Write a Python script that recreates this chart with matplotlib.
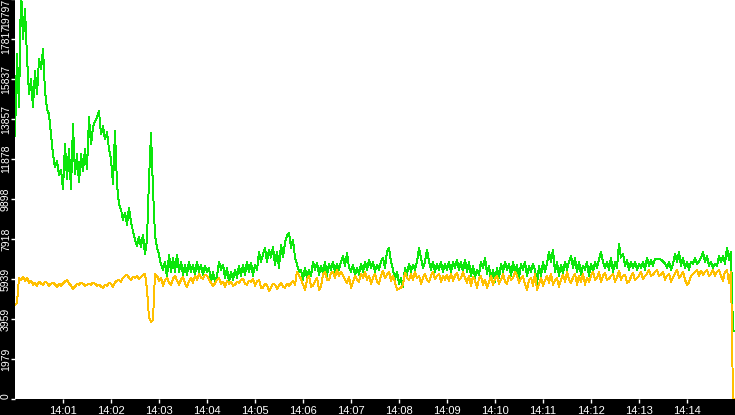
import matplotlib
matplotlib.use("Agg")
import matplotlib.pyplot as plt
import numpy as np

# one reading every 2.5 s from 14:00:00 to 14:15:00
sample_step_s = 2.5

green_vals = [
    13000, 17070, 14440, 20300, 17810, 19300, 16920, 15080, 15830, 14440,
    16230, 15080, 16820, 16320, 17320, 15230, 14340, 14090, 13100, 12110,
    11460, 11760, 11070, 11360, 10370, 12600, 10870, 12360, 10370, 13600,
    11110, 12110, 10720, 12110, 11260, 12360, 11360, 13940, 12600, 13450,
    13740, 13940, 14240, 13100, 13500, 12850, 13200, 12360, 11860, 10620,
    13250, 10620, 9630, 9380, 8880, 9230, 8630, 9480, 8780, 8290,
    7890, 7590, 8040, 7540, 8140, 7150, 7890, 10870, 13150, 10370,
    8090, 7490, 7150, 6650, 6400, 6800, 6000, 7150, 6300, 7000,
    6300, 7150, 6300, 6800, 6150, 6650, 6150, 6800, 6300, 6650,
    6150, 6800, 6300, 6650, 6150, 6600, 6300, 6500, 5810, 6300,
    5810, 6100, 6800, 6400, 6650, 6000, 6500, 5810, 6300, 5900,
    6400, 6000, 6600, 6100, 6650, 6150, 6800, 6300, 6750, 6100,
    6650, 6400, 7290, 6800, 7150, 7490, 6800, 7390, 7000, 7540,
    6650, 7290, 6500, 7640, 7000, 7740, 8090, 8240, 7490, 7890,
    7000, 6650, 6300, 6400, 5900, 6500, 6000, 6400, 6100, 6800,
    6400, 6750, 6150, 6600, 6200, 6800, 6100, 6700, 6400, 6800,
    6300, 6700, 6400, 6800, 7100, 6600, 7240, 6500, 6300, 6650,
    6100, 6500, 6150, 6700, 6300, 6800, 6400, 6900, 6500, 6800,
    6300, 6650, 6400, 6800, 7000, 6500, 7290, 7490, 6800, 6400,
    5900, 6300, 5710, 6000, 5560, 6500, 6150, 6700, 6300, 6650,
    6400, 6800, 7490, 7000, 6500, 6800, 7390, 6800, 6400, 6800,
    6300, 6700, 6400, 6800, 6300, 6700, 6400, 6800, 6300, 6800,
    6500, 6900, 6400, 6800, 6300, 6900, 6300, 6800, 6100, 6600,
    6000, 6400, 6150, 6800, 6500, 7000, 6200, 6600, 5900, 6400,
    5810, 6500, 6000, 6700, 6300, 6800, 6400, 6700, 6100, 6800,
    6200, 6650, 6000, 6700, 6400, 6800, 6100, 6600, 6300, 6700,
    6400, 5710, 6600, 6100, 6800, 6300, 6700, 7290, 6800, 7390,
    6300, 6800, 6100, 6650, 6200, 6800, 6400, 6800, 7100, 6500,
    7000, 6300, 6800, 6150, 6600, 6400, 6800, 6100, 6700, 6300,
    6800, 6500, 6900, 7290, 6800, 6500, 6800, 6400, 7000, 6300,
    6800, 6500, 7690, 7000, 7190, 6600, 6900, 6400, 6800, 6500,
    6800, 6400, 6700, 6500, 6800, 6400, 7000, 6600, 6900, 6600,
    6950, 6950, 6950, 6900, 6800, 6700, 6500, 6800, 6400, 6700,
    7190, 6800, 7290, 6600, 7000, 6500, 6800, 6400, 6800, 6700,
    7000, 6700, 6800, 7000, 7290, 6800, 7100, 6600, 6800, 6500,
    6700, 6600, 7100, 6800, 7100, 6700, 7490, 6900, 7290, 3370,
    3370,
]

orange_vals = [
    4660, 4760, 6000, 5900, 6050, 5860, 6000, 5760, 5860, 5660,
    5760, 5610, 5810, 5710, 5660, 5810, 5760, 5610, 5710, 5760,
    5660, 5560, 5710, 5610, 5710, 5810, 5900, 5710, 5610, 5460,
    5560, 5710, 5660, 5760, 5710, 5610, 5660, 5710, 5660, 5760,
    5710, 5610, 5660, 5560, 5510, 5660, 5610, 5760, 5710, 5560,
    5760, 5860, 5900, 5810, 6000, 6100, 6150, 6000, 5900, 6050,
    6000, 6100, 5950, 6050, 6150, 6200, 5410, 4020, 3820, 3920,
    6200, 6100, 5860, 6000, 5610, 5900, 6000, 5760, 5660, 5950,
    6100, 5860, 5660, 5900, 6050, 5710, 5560, 5810, 6000, 5760,
    6100, 5900, 6200, 6000, 5950, 6150, 6100, 5900, 5760, 5610,
    5710, 5900, 6000, 5710, 5810, 5560, 5860, 5710, 5810, 5610,
    5660, 5810, 5760, 5900, 5950, 5710, 5660, 5860, 5810, 5950,
    5610, 5810, 5900, 5510, 5510, 5710, 5610, 5360, 5510, 5710,
    5660, 5460, 5610, 5760, 5560, 5510, 5710, 5610, 5710, 5860,
    5660, 6300, 6100, 5950, 5660, 5410, 5900, 6100, 5560, 5610,
    5810, 6000, 5410, 5560, 6150, 6300, 5900, 5900, 6250, 6300,
    6000, 6400, 6100, 6300, 6100, 5900, 5760, 6050, 5510, 5760,
    6100, 5900, 5810, 6200, 6000, 6300, 5900, 6100, 5710, 6000,
    6200, 5810, 5710, 6100, 6350, 6000, 6150, 6300, 5860, 6100,
    5760, 5410, 5460, 5510, 5660, 6250, 6000, 5900, 6200, 5900,
    6300, 6000, 6100, 5710, 6000, 6200, 5900, 5810, 6100, 6300,
    5950, 6100, 6200, 5810, 6100, 5900, 6150, 5860, 6200, 5860,
    6100, 6250, 5900, 6000, 6300, 6000, 5760, 6100, 5610, 6050,
    5860, 5510, 5950, 6100, 5660, 5900, 5510, 5760, 6100, 5660,
    5950, 6100, 5710, 5900, 6200, 5810, 5710, 6100, 5900, 6000,
    6300, 6100, 5760, 5950, 6100, 5660, 5410, 5900, 6000, 5610,
    6200, 5410, 5660, 6000, 5610, 5860, 6100, 5760, 6200, 5660,
    5860, 6000, 5560, 5900, 6150, 5810, 6300, 5900, 5760, 6000,
    6200, 5660, 6100, 5810, 6200, 5660, 6000, 5810, 6100, 6300,
    5900, 6000, 6300, 5810, 6100, 6250, 5900, 5950, 6100, 6200,
    5810, 6000, 6350, 5900, 6100, 6150, 5760, 5810, 6050, 6250,
    5900, 6000, 6100, 6300, 5950, 6100, 6200, 6400, 6100, 6150,
    6300, 6400, 6100, 6150, 6300, 5900, 6100, 6200, 5810, 6000,
    6200, 6400, 6000, 6100, 6300, 5900, 5660, 5760, 6100, 6200,
    6300, 6400, 6100, 6350, 6150, 6300, 6400, 6100, 6200, 6400,
    6100, 6300, 6400, 6100, 5860, 6300, 6400, 5760, 6300, 0,
    0,
]

y_ticks = [0, 1979, 3959, 5939, 7918, 9898, 11878, 13857, 15837, 17817, 19797]
x_ticks = [1, 2, 3, 4, 5, 6, 7, 8, 9, 10, 11, 12, 13, 14]
x_labels = ["14:%02d" % m for m in x_ticks]

plt.rcParams['font.family'] = ['Liberation Sans', 'DejaVu Sans']

fig = plt.figure(figsize=(7.35, 4.15), dpi=100, facecolor='black')
ax = fig.add_axes([15 / 735, 16 / 415, 720 / 735, 400 / 415])
ax.set_facecolor('white')

# minutes after 14:00
t_green = np.arange(len(green_vals)) * sample_step_s / 60.0
t_orange = np.arange(len(orange_vals)) * sample_step_s / 60.0

ax.plot(t_green, green_vals, color='#0be60b', linewidth=0.7, antialiased=False)
ax.plot(t_orange, orange_vals, color='#ffc000', linewidth=0.7, antialiased=False)

ax.set_xlim(0, 15)
ax.set_ylim(0, 19797)
for s in ax.spines.values():
    s.set_visible(False)

ax.set_yticks(y_ticks)
ax.set_yticklabels([str(v) for v in y_ticks], rotation=90, va='center')
ax.set_xticks(x_ticks)
ax.set_xticklabels(x_labels)
ax.tick_params(axis='both', colors='white', labelcolor='white', length=2.9, width=1)
ax.tick_params(axis='y', pad=0, labelsize=7.5)
ax.tick_params(axis='x', pad=2, labelsize=8)

# keep end labels inside the figure like the original
ylabs = ax.get_yticklabels()
ylabs[0].set_va('bottom')
ylabs[-1].set_va('top')

fig.savefig('out.png', dpi=100, facecolor='black')
